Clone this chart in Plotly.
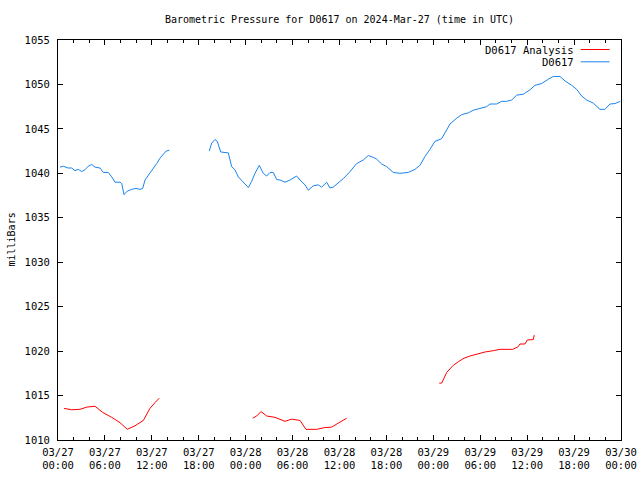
import pandas as pd
import plotly.graph_objects as go

BASE = pd.Timestamp("2024-03-27 00:00")

# D0617 observations (hours after 2024-03-27 00:00 UTC, millibars); None = gap
obs_hours = [0.26, 0.68, 1.28, 1.75, 2.17, 2.6, 3.03, 3.45, 3.87, 4.31, 4.73, 5.37, 5.79, 6.43,
             6.87, 7.29, 7.93, 8.15, 8.44, 8.86, 9.42, 9.97, 10.49, 10.83, 11.13, 11.76, 12.19,
             12.62, 13.04, 13.47, 13.81, 14.23,
             16.8,
             19.35, 19.65, 20.08, 20.37, 20.81, 21.78, 22.21, 22.63, 23.06, 23.7, 24.34, 24.77,
             25.19, 25.74, 26.25, 26.69, 27.11, 27.53, 27.97, 28.39, 29.03, 29.67, 30.52, 30.95,
             31.59, 32.01, 32.65, 33.29, 33.72, 34.36, 34.78, 35.2, 35.84, 36.48, 37.25, 38.2,
             39.04, 39.68, 40.32, 40.75, 41.39, 42.03, 42.88, 43.73, 44.8, 45.65, 46.29, 46.93,
             47.57, 48.21, 49.07, 49.71, 50.13, 50.98, 51.62, 52.47, 53.11, 53.96, 54.82, 55.24,
             56.1, 56.74, 57.38, 58.02, 58.66, 59.5, 60.36, 61.0, 61.85, 62.72, 63.34, 64.19,
             64.83, 65.69, 66.33, 66.97, 67.61, 68.45, 69.31, 69.95, 70.59, 71.23, 71.9]
obs_mb = [1040.7, 1040.8, 1040.6, 1040.6, 1040.3, 1040.45, 1040.2, 1040.4, 1040.8, 1041.0, 1040.7,
          1040.6, 1040.1, 1040.1, 1039.6, 1039.0, 1039.0, 1038.85, 1037.6, 1038.0, 1038.2, 1038.3,
          1038.2, 1038.3, 1039.25, 1040.0, 1040.6, 1041.1, 1041.7, 1042.1, 1042.5, 1042.6,
          None,
          1042.5, 1043.4, 1043.8, 1043.6, 1042.4, 1042.3, 1040.75, 1040.4, 1039.6, 1039.0,
          1038.4, 1039.1, 1040.0, 1040.9, 1040.0, 1039.7, 1040.1, 1040.1, 1039.3, 1039.25,
          1039.0, 1039.25, 1039.7, 1039.25, 1038.7, 1038.1, 1038.6, 1038.7, 1038.45, 1039.0,
          1038.35, 1038.45, 1038.9, 1039.4, 1040.1, 1041.1, 1041.5, 1042.0, 1041.8, 1041.6,
          1041.05, 1040.75, 1040.1, 1040.0, 1040.1, 1040.45, 1040.9, 1041.9, 1042.7, 1043.6,
          1043.9, 1044.9, 1045.55, 1046.2, 1046.6, 1046.8, 1047.1, 1047.3, 1047.5, 1047.8,
          1047.8, 1048.1, 1048.1, 1048.25, 1048.8, 1048.9, 1049.4, 1049.9, 1050.1, 1050.6,
          1050.9, 1050.9, 1050.4, 1049.9, 1049.45, 1048.7, 1048.25, 1047.9, 1047.2, 1047.2,
          1047.8, 1047.85, 1048.1]

# D0617 Analysis
ana_hours = [0.77, 1.75, 2.81, 3.67, 4.73, 5.72, 6.87, 7.93, 8.86, 9.85, 10.91, 11.76, 12.4, 12.95,
             18.0,
             24.9, 25.41, 25.96, 26.69, 27.75, 29.03, 29.88, 30.95, 31.71, 33.08, 34.14, 35.0,
             35.84, 36.92,
             42.0,
             48.76, 49.07, 49.71, 50.55, 51.19, 51.92, 52.69, 53.75, 54.6, 55.67, 56.52, 58.15,
             58.86, 59.08, 59.72, 60.01, 60.78, 60.91]
ana_mb = [1013.56, 1013.4, 1013.45, 1013.7, 1013.8, 1013.1, 1012.55, 1011.95, 1011.2, 1011.6,
          1012.2, 1013.56, 1014.2, 1014.7,
          None,
          1012.45, 1012.7, 1013.2, 1012.7, 1012.55, 1012.1, 1012.35, 1012.2, 1011.2, 1011.2,
          1011.4, 1011.45, 1011.9, 1012.45,
          None,
          1016.4, 1016.4, 1017.6, 1018.4, 1018.8, 1019.2, 1019.45, 1019.7, 1019.9, 1020.05,
          1020.2, 1020.2, 1020.5, 1020.8, 1020.8, 1021.25, 1021.3, 1021.8]

tick_hours = [0, 6, 12, 18, 24, 30, 36, 42, 48, 54, 60, 66, 72]
tick_text = ["03/27<br>00:00", "03/27<br>06:00", "03/27<br>12:00", "03/27<br>18:00",
             "03/28<br>00:00", "03/28<br>06:00", "03/28<br>12:00", "03/28<br>18:00",
             "03/29<br>00:00", "03/29<br>06:00", "03/29<br>12:00", "03/29<br>18:00",
             "03/30<br>00:00"]
y_ticks = [1010, 1015, 1020, 1025, 1030, 1035, 1040, 1045, 1050, 1055]

def to_time(hs):
    return [BASE + pd.Timedelta(hours=h) for h in hs]

FONT = "DejaVu Sans Mono"
RED = "#ff0000"
BLUE = "#1a84f0"
TICKFONT = dict(family=FONT, size=10.5, color="black")

fig = go.Figure()
fig.add_trace(go.Scatter(x=to_time(ana_hours), y=ana_mb, mode="lines", name="D0617 Analysis",
                         line=dict(color=RED, width=1), connectgaps=False))
fig.add_trace(go.Scatter(x=to_time(obs_hours), y=obs_mb, mode="lines", name="D0617",
                         line=dict(color=BLUE, width=1), connectgaps=False))

fig.update_layout(
    width=640, height=480,
    margin=dict(l=58, r=19, t=40, b=40, autoexpand=False),
    paper_bgcolor="white", plot_bgcolor="white",
    showlegend=False,
    font=dict(family=FONT, size=10, color="black"),
    title=dict(text="Barometric Pressure for D0617 on 2024-Mar-27 (time in UTC)",
               xref="paper", x=0.5, xanchor="center", y=1 - 19 / 480, yanchor="middle",
               font=dict(family=FONT, size=10, color="black")),
)
fig.update_xaxes(
    range=[BASE, BASE + pd.Timedelta(hours=72)],
    tickvals=to_time(tick_hours), ticktext=tick_text,
    ticks="inside", ticklen=5, tickcolor="black", tickwidth=1,
    minor=dict(dtick=2 * 3600 * 1000, ticks="inside", ticklen=3, tickcolor="black", showgrid=False),
    showline=True, linecolor="black", linewidth=1, mirror="ticks",
    showgrid=False, zeroline=False, automargin=False,
    tickfont=TICKFONT, ticklabelstandoff=2,
)
fig.update_yaxes(
    range=[1010, 1055], tickvals=y_ticks,
    ticks="inside", ticklen=5, tickcolor="black", tickwidth=1,
    showline=True, linecolor="black", linewidth=1, mirror="ticks",
    showgrid=False, zeroline=False, automargin=False,
    tickfont=TICKFONT, ticklabelstandoff=5,
)

# y-axis title
fig.add_annotation(xref="paper", yref="paper", x=(10.5 - 58) / 563, y=0.5, text="milliBars",
                   textangle=-90, showarrow=False, xanchor="center", yanchor="middle",
                   font=dict(family=FONT, size=10, color="black"))

# legend (gnuplot style: label then sample line)
legend_items = [("D0617 Analysis", RED), ("D0617", BLUE)]
for i, (label, col) in enumerate(legend_items):
    yp = 1 - (9.5 + 12.3 * i) / 400
    fig.add_annotation(xref="paper", yref="paper", x=(575.5 - 58) / 563, y=yp,
                       text=label, showarrow=False, xanchor="right", yanchor="middle",
                       font=dict(family=FONT, size=10.5, color="black"))
    fig.add_shape(type="line", xref="paper", yref="paper",
                  x0=(580.7 - 58) / 563, x1=(609.5 - 58) / 563, y0=yp, y1=yp,
                  line=dict(color=col, width=1))

fig.write_html("out.html")
